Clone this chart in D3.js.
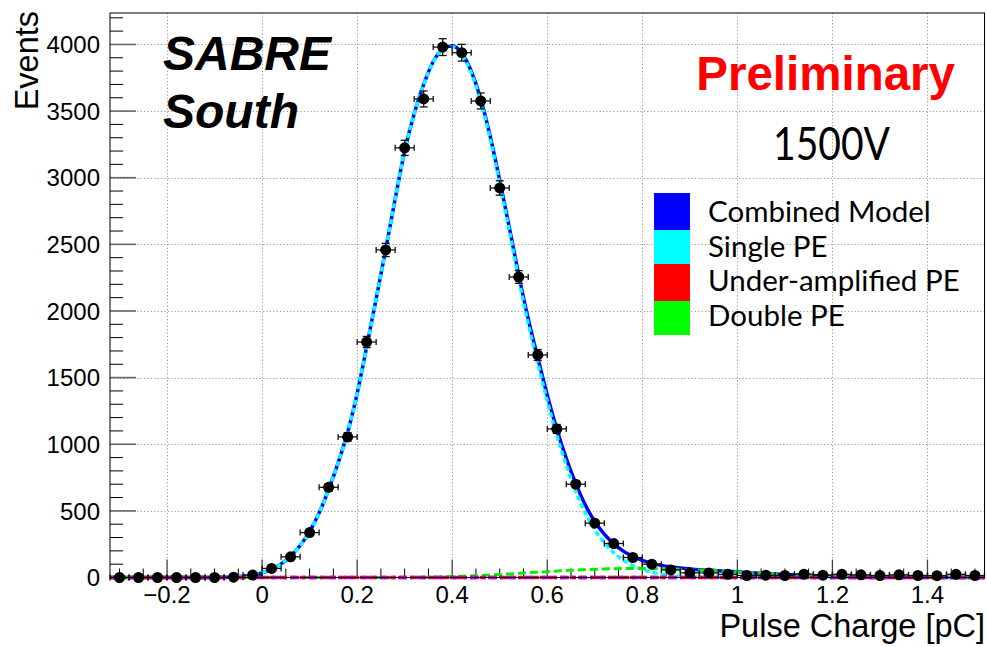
<!DOCTYPE html>
<html>
<head>
<meta charset="utf-8">
<script src="https://cdn.jsdelivr.net/npm/d3@7"></script>
<style>
  html, body { margin: 0; padding: 0; background: #fff; }
  svg { display: block; }
</style>
</head>
<body>
<svg id="chart" width="987" height="647"></svg>
<script>
// ---- Measured charge spectrum (bin centres in pC, counts per bin) ----
const binCenters = [-0.30,-0.26,-0.22,-0.18,-0.14,-0.10,-0.06,-0.02,0.02,0.06,0.10,0.14,0.18,0.22,0.26,0.30,0.34,0.38,0.42,0.46,0.50,0.54,0.58,0.62,0.66,0.70,0.74,0.78,0.82,0.86,0.90,0.94,0.98,1.02,1.06,1.10,1.14,1.18,1.22,1.26,1.30,1.34,1.38,1.42,1.46,1.50];
const counts = [0,0,0,0,0,0,2,18,68,155,337,677,1055,1767,2458,3224,3591,3980,3938,3576,2923,2255,1670,1115,700,408,255,150,100,57,35,34,24,15,17,15,25,17,24,20,15,20,15,14,24,15];
const binHalfWidth = 0.02;

// ---- Fit components sampled along the charge axis ----
const modelX = [-0.32,-0.16,-0.12,-0.10,-0.08,-0.06,-0.04,-0.02,0.00,0.02,0.04,0.06,0.08,0.10,0.12,0.14,0.16,0.18,0.20,0.22,0.24,0.26,0.28,0.30,0.32,0.34,0.36,0.38,0.40,0.42,0.44,0.46,0.48,0.50,0.52,0.54,0.56,0.58,0.60,0.62,0.64,0.66,0.68,0.70,0.72,0.74,0.76,0.78,0.80,0.82,0.84,0.86,0.88,0.90,0.94,0.98,1.02,1.06,1.10,1.14,1.18,1.22,1.26,1.32,1.40,1.52];
const combinedModel = [0,0,0.5,1,2,4,9,18,35,62,102,160,240,345,485,660,860,1090,1380,1730,2090,2460,2840,3200,3480,3700,3870,3965,3990,3935,3800,3590,3310,2980,2630,2270,1940,1650,1370,1115,895,705,545,420,325,252,198,158,128,106,91,80,71,64,55,47,38,30,23,17,12,8,5,2,1,0];
const singlePE = [0,0,0.5,1,2,4,9,18,35,62,102,160,240,345,485,660,860,1090,1380,1730,2090,2460,2840,3200,3479,3698,3867,3960,3983,3926,3788,3575,3291,2957,2603,2239,1904,1610,1326,1067,843,649,486,358,261,186,131,90,60,39,25,16,9,5,2,1,0,0,0,0,0,0,0,0,0,0];
const underAmpPE = [0,0,0,0,0,0,0,0,0,0,0,0,0,0,0,0,0,0,0,0,0,0,0,0,0,0,0,0,0,0,0,0,0,0,0,0,0,0,0,0,0,0,0,0,0,0,0,0,0,0,0,0,0,0,0,0,0,0,0,0,0,0,0,0,0,0];
const doublePE = [0,0,0,0,0,0,0,0,0,0,0,0,0,0,0,0,0,0,0,0,0,0,0,0,1,2,3,5,7,9,12,15,19,23,27,31,36,40,44,48,52,56,59,62,64,66,67,68,68,67,66,64,62,59,53,46,38,30,23,17,12,8,5,2,1,0];
const pedestalX = [-0.32, 1.52];
const pedestal = [0, 0];

// ---- Axis ticks and labels ----
const xMajorTicks = [-0.2,0,0.2,0.4,0.6,0.8,1.0,1.2,1.4];
const xTickLabels = ["\u22120.2","0","0.2","0.4","0.6","0.8","1","1.2","1.4"];
const yMajorTicks = [0,500,1000,1500,2000,2500,3000,3500,4000];
const yTickLabels = ["0","500","1000","1500","2000","2500","3000","3500","4000"];

const legendLabels = ["Combined Model","Single PE","Under-amplified PE","Double PE"];
const legendColors = ["#0000ff","#00ffff","#ff0000","#00ff00"];

// ---- Layout ----
const svg = d3.select("#chart");
const frame = {left: 110, right: 984.5, top: 13, bottom: 577.5};
const x = d3.scaleLinear().domain([-0.32, 1.52]).range([frame.left, frame.right]);
const y = d3.scaleLinear().domain([0, 4236]).range([frame.bottom, frame.top]);

const helv = "'Liberation Sans', Arial, Helvetica, sans-serif";
const gill = "Lato, 'Open Sans', sans-serif";

// grid
const grid = svg.append("g").attr("stroke", "#9a9a9a").attr("stroke-width", 1).attr("stroke-dasharray", "1.2,2.2");
grid.selectAll("line.gx").data(xMajorTicks).join("line")
  .attr("x1", d => Math.round(x(d)) + 0.5).attr("x2", d => Math.round(x(d)) + 0.5)
  .attr("y1", frame.top).attr("y2", frame.bottom);
grid.selectAll("line.gy").data(yMajorTicks.filter(d => d > 0)).join("line")
  .attr("y1", d => Math.round(y(d)) + 0.5).attr("y2", d => Math.round(y(d)) + 0.5)
  .attr("x1", frame.left).attr("x2", frame.right);

// ticks (inside the frame, ROOT style)
const xMinor = d3.range(-30, 151, 5).map(v => v / 100).filter(v => !xMajorTicks.some(m => Math.abs(m - v) < 1e-9));
const yMinor = d3.range(100, 4236, 100).filter(v => v % 500 !== 0);
const ticks = svg.append("g");
ticks.selectAll("line.xmaj").data(xMajorTicks).join("line")
  .attr("x1", d => x(d)).attr("x2", d => x(d)).attr("y1", frame.bottom).attr("y2", frame.bottom - 18)
  .attr("stroke", "#444").attr("stroke-width", 1.3);
ticks.selectAll("line.xmin").data(xMinor).join("line")
  .attr("x1", d => x(d)).attr("x2", d => x(d)).attr("y1", frame.bottom).attr("y2", frame.bottom - 9)
  .attr("stroke", "#000").attr("stroke-width", 1);
ticks.selectAll("line.ymaj").data(yMajorTicks).join("line")
  .attr("x1", frame.left).attr("x2", frame.left + 26).attr("y1", d => y(d)).attr("y2", d => y(d))
  .attr("stroke", "#666").attr("stroke-width", 1.6);
ticks.selectAll("line.ymin").data(yMinor).join("line")
  .attr("x1", frame.left).attr("x2", frame.left + 13).attr("y1", d => y(d)).attr("y2", d => y(d))
  .attr("stroke", "#000").attr("stroke-width", 1);

// tick labels
svg.append("g").selectAll("text").data(xMajorTicks).join("text")
  .attr("x", d => x(d)).attr("y", 603).attr("text-anchor", "middle")
  .attr("font-family", helv).attr("font-size", 24).attr("fill", "#000")
  .text((d, i) => xTickLabels[i]);
svg.append("g").selectAll("text").data(yMajorTicks).join("text")
  .attr("x", 100).attr("y", d => y(d)).attr("dy", "0.36em").attr("text-anchor", "end")
  .attr("font-family", helv).attr("font-size", 24).attr("fill", "#000")
  .text((d, i) => yTickLabels[i]);

// axis titles
svg.append("text").attr("x", 985).attr("y", 637).attr("text-anchor", "end")
  .attr("font-family", helv).attr("font-size", 32.5).text("Pulse Charge [pC]");
svg.append("text").attr("transform", "translate(38,11) rotate(-90)").attr("text-anchor", "end")
  .attr("font-family", helv).attr("font-size", 32.5).text("Events");

// fit curves
const plot = svg.append("g");
function drawCurve(xs, ys, color, width, dash) {
  const pts = xs.map((v, i) => [v, ys[i]]);
  const line = d3.line().x(d => x(d[0])).y(d => y(d[1])).curve(d3.curveMonotoneX);
  plot.append("path").attr("d", line(pts)).attr("fill", "none")
    .attr("stroke", color).attr("stroke-width", width)
    .attr("stroke-dasharray", dash || null);
}
drawCurve(modelX, combinedModel, "#0000ff", 3.5, null);
drawCurve(modelX, singlePE, "#00ffff", 3.5, "5,3");
drawCurve(modelX, doublePE, "#00ee00", 3, "8,4");
drawCurve(modelX, underAmpPE, "#ff0000", 3.5, "6,4");
drawCurve(pedestalX, pedestal, "#c000c0", 3.5, "9,3,3,3");

// data points with error bars
const pts = binCenters.map((c, i) => ({c, n: counts[i], e: Math.sqrt(counts[i])}));
const eb = svg.append("g").attr("stroke", "#111").attr("stroke-width", 1.3);
pts.forEach(p => {
  const px = x(p.c), py = y(p.n);
  const xl = x(p.c - binHalfWidth), xr = x(p.c + binHalfWidth);
  eb.append("line").attr("x1", xl).attr("x2", xr).attr("y1", py).attr("y2", py);
  eb.append("line").attr("x1", xl).attr("x2", xl).attr("y1", py - 3).attr("y2", py + 3);
  eb.append("line").attr("x1", xr).attr("x2", xr).attr("y1", py - 3).attr("y2", py + 3);
  if (p.n > 0) {
    const yt = y(p.n + p.e), yb = y(p.n - p.e);
    eb.append("line").attr("x1", px).attr("x2", px).attr("y1", yt).attr("y2", yb);
    eb.append("line").attr("x1", px - 4).attr("x2", px + 4).attr("y1", yt).attr("y2", yt);
    eb.append("line").attr("x1", px - 4).attr("x2", px + 4).attr("y1", yb).attr("y2", yb);
  }
});
svg.append("g").selectAll("circle").data(pts).join("circle")
  .attr("cx", d => x(d.c)).attr("cy", d => y(d.n)).attr("r", 5.5).attr("fill", "#000");

// frame
svg.append("rect").attr("x", frame.left).attr("y", frame.top)
  .attr("width", frame.right - frame.left).attr("height", frame.bottom - frame.top)
  .attr("fill", "none").attr("stroke", "#000").attr("stroke-width", 1);

// annotations
svg.append("text").attr("x", 163).attr("y", 70).attr("font-family", helv)
  .attr("font-size", 48).attr("font-weight", "bold").attr("font-style", "italic").text("SABRE");
svg.append("text").attr("x", 163).attr("y", 128).attr("font-family", helv)
  .attr("font-size", 48).attr("font-weight", "bold").attr("font-style", "italic").text("South");
svg.append("text").attr("x", 955).attr("y", 90).attr("text-anchor", "end").attr("font-family", helv)
  .attr("font-size", 47.5).attr("font-weight", "bold").attr("fill", "#ff0000").text("Preliminary");
svg.append("text").attr("x", 773).attr("y", 160).attr("font-family", gill)
  .attr("font-size", 46).attr("fill", "#000")
  .attr("textLength", 117).attr("lengthAdjust", "spacingAndGlyphs").text("1500V");

// legend
const legend = svg.append("g");
const boxTops = [193, 230, 264, 301];
const boxBottoms = [230, 267, 301, 335];
legendLabels.forEach((lab, i) => {
  legend.append("rect").attr("x", 654).attr("y", boxTops[i]).attr("width", 36)
    .attr("height", boxBottoms[i] - boxTops[i]).attr("fill", legendColors[i]);
  legend.append("text").attr("x", 708).attr("y", 222 + i * 34.6).attr("font-family", gill)
    .attr("font-size", 29.5).attr("fill", "#000").text(lab);
});
</script>
</body>
</html>
